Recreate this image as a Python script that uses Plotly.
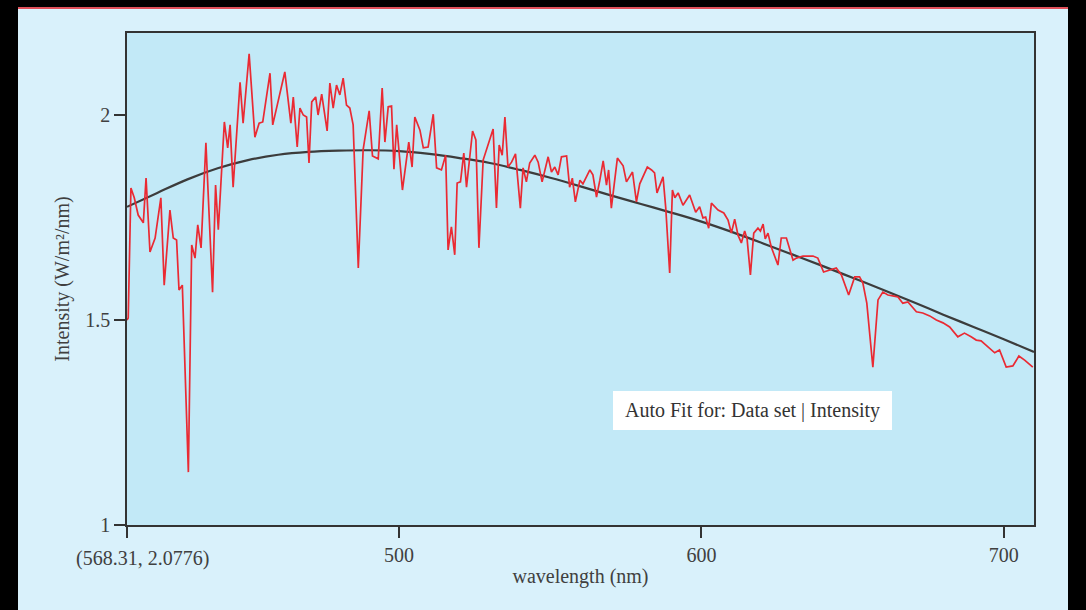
import plotly.graph_objects as go

# ---- measured spectrum (wavelength nm, intensity W/m^2/nm) ----
wavelength = [410.0, 410.4, 411.3, 412.4, 413.7, 415.4, 416.3, 417.6, 419.3, 421.2, 422.3, 424.2, 425.3, 426.4,
              427.2, 428.3, 430.3, 431.4, 432.5, 433.4, 434.5, 436.1, 438.3, 439.3, 440.2, 442.2, 443.3, 444.1,
              445.1, 447.4, 448.4, 450.4, 452.3, 453.7, 454.9, 457.3, 458.2, 460.6, 462.2, 464.2, 465.0, 466.3,
              467.2, 468.3, 469.4, 470.2, 471.1, 472.4, 473.2, 474.4, 476.2, 477.1, 478.2, 479.3, 480.4, 481.5,
              482.6, 483.7, 484.8, 486.5, 488.1, 490.1, 491.2, 493.1, 494.4, 495.3, 496.4, 497.5, 498.3, 499.2,
              501.1, 503.2, 504.3, 505.2, 506.9, 508.0, 509.6, 511.3, 512.4, 514.0, 515.4, 516.2, 517.3, 518.4,
              519.2, 520.3, 521.4, 522.3, 524.3, 525.4, 526.4, 527.8, 531.1, 532.2, 533.1, 534.1, 535.0, 536.0,
              537.2, 538.5, 540.1, 541.0, 542.1, 543.2, 544.9, 546.0, 547.3, 549.3, 550.4, 551.5, 552.6, 553.7,
              555.4, 556.4, 557.3, 558.3, 559.8, 560.8, 563.1, 564.1, 565.3, 566.4, 567.5, 568.6, 569.3, 570.2,
              572.2, 574.1, 575.2, 577.2, 578.5, 579.6, 582.1, 583.5, 584.5, 585.3, 587.3, 588.2, 589.5, 590.4,
              591.2, 592.3, 593.9, 596.1, 598.1, 599.4, 600.5, 601.4, 602.4, 603.3, 605.5, 607.4, 608.8, 609.9,
              611.0, 612.1, 613.2, 614.3, 615.1, 616.2, 617.3, 618.7, 619.5, 620.4, 621.1, 622.0, 623.1, 625.3,
              626.4, 628.1, 630.3, 631.4, 633.6, 636.9, 638.5, 640.4, 642.4, 644.6, 646.3, 648.7, 650.7, 652.3,
              653.4, 654.7, 656.7, 658.4, 660.0, 661.7, 663.3, 665.0, 666.6, 668.3, 671.1, 673.2, 675.5, 677.7,
              679.9, 682.1, 684.8, 687.0, 689.2, 690.9, 692.5, 694.7, 697.0, 698.6, 700.8, 703.0, 705.0, 706.9,
              709.6]
intensity = [1.500, 1.505, 1.822, 1.798, 1.756, 1.737, 1.846, 1.666, 1.700, 1.798, 1.585, 1.768, 1.700, 1.695,
             1.573, 1.585, 1.129, 1.683, 1.651, 1.732, 1.676, 1.932, 1.568, 1.829, 1.720, 1.983, 1.920, 1.976,
             1.824, 2.080, 1.980, 2.149, 1.946, 1.980, 1.983, 2.102, 1.976, 2.054, 2.105, 1.980, 2.044, 1.922,
             2.017, 2.000, 1.995, 1.883, 2.032, 2.044, 2.000, 2.051, 1.961, 2.078, 2.017, 2.073, 2.049, 2.090,
             2.024, 2.017, 1.976, 1.627, 1.915, 2.010, 1.900, 1.893, 2.066, 1.934, 2.020, 2.022, 1.868, 1.976,
             1.817, 1.934, 1.873, 1.995, 1.963, 1.920, 1.922, 2.002, 1.871, 1.866, 1.902, 1.671, 1.727, 1.659,
             1.834, 1.837, 1.907, 1.824, 1.961, 1.939, 1.676, 1.890, 1.966, 1.773, 1.927, 1.902, 1.995, 1.873,
             1.885, 1.905, 1.773, 1.871, 1.837, 1.883, 1.902, 1.885, 1.837, 1.898, 1.861, 1.873, 1.854, 1.898,
             1.900, 1.824, 1.846, 1.788, 1.841, 1.832, 1.866, 1.854, 1.800, 1.841, 1.888, 1.829, 1.866, 1.773,
             1.895, 1.876, 1.837, 1.861, 1.788, 1.832, 1.873, 1.866, 1.859, 1.810, 1.849, 1.773, 1.615, 1.817,
             1.798, 1.810, 1.780, 1.805, 1.763, 1.776, 1.749, 1.751, 1.724, 1.785, 1.768, 1.761, 1.744, 1.712,
             1.746, 1.707, 1.688, 1.717, 1.698, 1.610, 1.712, 1.724, 1.717, 1.734, 1.698, 1.712, 1.678, 1.634,
             1.700, 1.700, 1.646, 1.651, 1.656, 1.656, 1.651, 1.617, 1.622, 1.627, 1.610, 1.561, 1.605, 1.605,
             1.590, 1.541, 1.385, 1.549, 1.568, 1.561, 1.559, 1.556, 1.541, 1.544, 1.520, 1.517, 1.510, 1.500,
             1.493, 1.483, 1.459, 1.468, 1.459, 1.451, 1.449, 1.434, 1.420, 1.427, 1.385, 1.388, 1.412, 1.402,
             1.385]

# ---- auto-fit curve ----
fit_wavelength = [410, 420, 430, 440, 450, 460, 470, 480, 490, 500, 510, 520, 530, 540, 550, 560, 570, 580,
                  590, 600, 610, 620, 630, 640, 650, 660, 670, 680, 690, 700, 710]
fit_intensity = [1.776, 1.810, 1.843, 1.870, 1.890, 1.903, 1.910, 1.913, 1.914, 1.912, 1.905, 1.895, 1.883,
                 1.866, 1.847, 1.826, 1.804, 1.783, 1.762, 1.740, 1.715, 1.688, 1.660, 1.632, 1.603, 1.574,
                 1.544, 1.513, 1.483, 1.453, 1.422]

x_tickvals = [410, 500, 600, 700]
x_ticktext = ["", "500", "600", "700"]
y_tickvals = [1, 1.5, 2]
y_ticktext = ["1", "1.5", "2"]

x_title = "wavelength (nm)"
y_title = "Intensity (W/m²/nm)"
fit_label = "Auto Fit for: Data set | Intensity"
readout = "(568.31, 2.0776)"

W, H = 1086, 610
L, R, T, B = 127, 1034, 33, 525
pw, ph = R - L, B - T


def px(x):
    return (x - L) / pw


def py(y):
    return (B - y) / ph


FONT = "Liberation Serif, Times New Roman, serif"
TXT = "#404040"
FS = 20

fig = go.Figure()
fig.add_trace(go.Scatter(x=fit_wavelength, y=fit_intensity, mode="lines",
                         line=dict(color="#3c3c3c", width=2.2, shape="spline"),
                         hoverinfo="skip", showlegend=False))
fig.add_trace(go.Scatter(x=wavelength, y=intensity, mode="lines", line=dict(color="#ea2a33", width=1.7),
                         showlegend=False))

shapes = [
    dict(type="rect", xref="paper", yref="paper", x0=px(0), x1=px(18), y0=py(H), y1=py(0),
         fillcolor="black", line=dict(width=0), layer="above"),
    dict(type="rect", xref="paper", yref="paper", x0=px(1068), x1=px(W), y0=py(H), y1=py(0),
         fillcolor="black", line=dict(width=0), layer="above"),
    dict(type="rect", xref="paper", yref="paper", x0=px(0), x1=px(W), y0=py(7), y1=py(0),
         fillcolor="black", line=dict(width=0), layer="above"),
    dict(type="line", xref="paper", yref="paper", x0=px(18), x1=px(1068), y0=py(8), y1=py(8),
         line=dict(color="#e0505a", width=2), layer="above"),
    dict(type="rect", xref="paper", yref="paper", x0=px(613), x1=px(892), y0=py(430), y1=py(391),
         fillcolor="white", line=dict(width=0), layer="above"),
]

annotations = [
    dict(xref="paper", yref="paper", x=px(752), y=py(410), text=fit_label, showarrow=False,
         font=dict(family=FONT, size=FS, color="#333333"), xanchor="center", yanchor="middle"),
    dict(xref="paper", yref="paper", x=px(142), y=py(558), text=readout, showarrow=False,
         font=dict(family=FONT, size=FS, color=TXT), xanchor="center", yanchor="middle"),
]

fig.update_layout(
    width=W, height=H,
    margin=dict(l=L, r=W - R, t=T, b=H - B, pad=0),
    paper_bgcolor="#d9f1fb",
    plot_bgcolor="#c2e9f7",
    font=dict(family=FONT, size=FS, color=TXT),
    shapes=shapes,
    annotations=annotations,
    xaxis=dict(range=[410, 710], tickvals=x_tickvals, ticktext=x_ticktext, ticks="outside", ticklen=11,
               tickwidth=1.5, tickcolor="#333", showline=True, linecolor="#333", linewidth=1.5, mirror=True,
               showgrid=False, zeroline=False, tickfont=dict(family=FONT, size=FS, color=TXT),
               title=dict(text=x_title, font=dict(family=FONT, size=FS, color=TXT), standoff=4)),
    yaxis=dict(range=[1, 2.2], tickvals=y_tickvals, ticktext=y_ticktext, ticks="outside", ticklen=11,
               tickwidth=1.5, tickcolor="#333", showline=True, linecolor="#333", linewidth=1.5, mirror=True,
               showgrid=False, zeroline=False, tickfont=dict(family=FONT, size=FS, color=TXT),
               title=dict(text=y_title, font=dict(family=FONT, size=FS, color=TXT), standoff=10)),
)

fig.write_html("out.html", config={"displayModeBar": False},
               post_script="document.body.style.margin='0';document.body.style.padding='0';")
